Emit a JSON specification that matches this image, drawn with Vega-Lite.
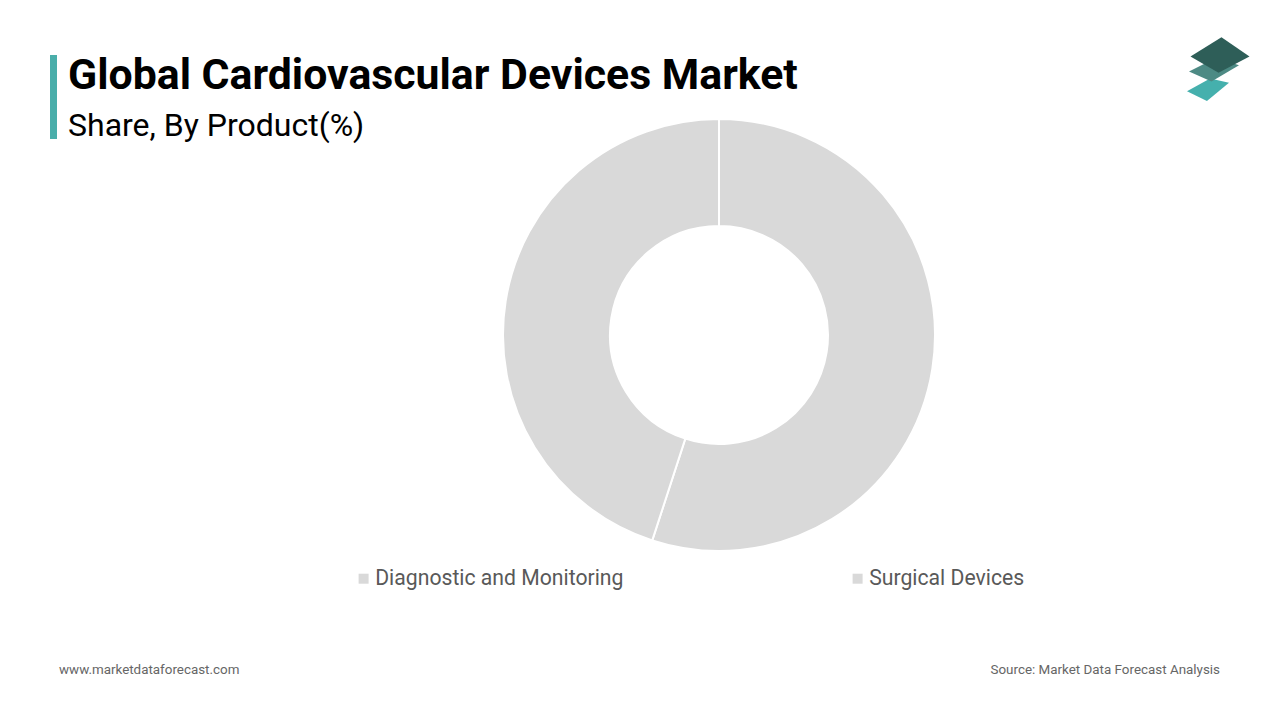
{
  "$schema": "https://vega.github.io/schema/vega-lite/v6.json",
  "width": 1122,
  "height": 670,
  "autosize": {"type": "none"},
  "padding": {"left": 158, "right": 0, "top": 0, "bottom": 50},
  "background": "#ffffff",
  "config": {"view": {"stroke": null}, "font": "Roboto"},
  "layer": [
    {
      "data": {"values": [
        {"product": "Diagnostic and Monitoring", "share": 55},
        {"product": "Surgical Devices", "share": 45}
      ]},
      "mark": {"type": "arc", "outerRadius": 216, "innerRadius": 109, "stroke": "#ffffff", "strokeWidth": 2},
      "encoding": {
        "theta": {"field": "share", "type": "quantitative", "stack": true},
        "color": {
          "field": "product",
          "type": "nominal",
          "scale": {"range": ["#d9d9d9", "#d9d9d9"]},
          "legend": {
            "title": null,
            "orient": "none",
            "legendX": 195,
            "legendY": 568,
            "direction": "horizontal",
            "columns": 2,
            "columnPadding": 223,
            "symbolType": "square",
            "symbolSize": 100,
            "symbolStrokeWidth": 0,
            "labelFont": "Roboto",
            "labelFontSize": 21.2,
            "labelColor": "#595959",
            "labelOffset": 1,
            "labelLimit": 400
          }
        }
      }
    },
    {
      "data": {"values": [{}]},
      "mark": {"type": "rule", "color": "#4aaeaa", "strokeWidth": 7},
      "encoding": {"x": {"value": -104.5}, "y": {"value": 55}, "y2": {"value": 139}}
    },
    {
      "data": {"values": [{}]},
      "mark": {"type": "text", "text": "Global Cardiovascular Devices Market", "font": "Roboto", "fontSize": 42.8, "fontWeight": "bold", "color": "#000000", "align": "left", "baseline": "alphabetic"},
      "encoding": {"x": {"value": -90}, "y": {"value": 89}}
    },
    {
      "data": {"values": [{}]},
      "mark": {"type": "text", "text": "Share, By Product(%)", "font": "Roboto", "fontSize": 32, "color": "#000000", "align": "left", "baseline": "alphabetic"},
      "encoding": {"x": {"value": -90}, "y": {"value": 136}}
    },
    {
      "data": {"values": [{}]},
      "mark": {"type": "text", "text": "www.marketdataforecast.com", "font": "Roboto", "fontSize": 13.4, "color": "#666666", "align": "left", "baseline": "middle"},
      "encoding": {"x": {"value": -99}, "y": {"value": 670}}
    },
    {
      "data": {"values": [{}]},
      "mark": {"type": "text", "text": "Source: Market Data Forecast Analysis", "font": "Roboto", "fontSize": 13.4, "color": "#666666", "align": "right", "baseline": "middle"},
      "encoding": {"x": {"value": 1062}, "y": {"value": 670}}
    },
    {
      "data": {"values": [{}]},
      "mark": {"type": "point", "filled": true, "opacity": 1, "color": "#45b0ad", "size": 1764, "shape": "M-1,0.15L0.1,-0.45L1,-0.25L-0.05,0.62Z"},
      "encoding": {"x": {"value": 1050}, "y": {"value": 88}}
    },
    {
      "data": {"values": [{}]},
      "mark": {"type": "point", "filled": true, "opacity": 1, "color": "#4d8a84", "size": 2500, "shape": "M-1,0.1L0.1,-0.45L1,-0.15L-0.1,0.5Z"},
      "encoding": {"x": {"value": 1056}, "y": {"value": 69}}
    },
    {
      "data": {"values": [{}]},
      "mark": {"type": "point", "filled": true, "opacity": 1, "color": "#2e5e58", "size": 3481, "shape": "M-1,0.05L0.05,-0.6L1,0.05L-0.05,0.6Z"},
      "encoding": {"x": {"value": 1062}, "y": {"value": 55}}
    }
  ]
}
